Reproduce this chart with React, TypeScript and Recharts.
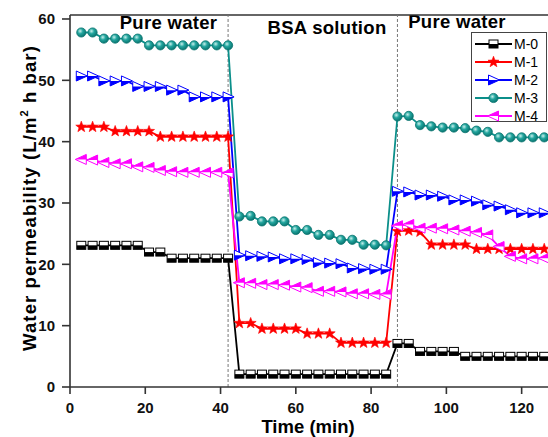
import React from 'react';
import { LineChart, Line, XAxis, YAxis, ReferenceLine, Legend, Customized } from 'recharts';

const times = [3, 6, 9, 12, 15, 18, 21, 24, 27, 30, 33, 36, 39, 42, 45, 48, 51, 54, 57, 60, 63, 66, 69, 72, 75, 78, 81, 84, 87, 90, 93, 96, 99, 102, 105, 108, 111, 114, 117, 120, 123, 126];

const m0 = [23.1, 23.1, 23.1, 23.1, 23.1, 23.1, 22.0, 22.0, 21.0, 21.0, 21.0, 21.0, 21.0, 21.0,
  2.1, 2.1, 2.1, 2.1, 2.1, 2.1, 2.1, 2.1, 2.1, 2.1, 2.1, 2.1, 2.1, 2.1,
  7.1, 7.1, 5.8, 5.8, 5.8, 5.8, 5.0, 5.0, 5.0, 5.0, 5.0, 5.0, 5.0, 5.0];
const m1 = [42.4, 42.4, 42.4, 41.7, 41.7, 41.7, 41.7, 40.8, 40.8, 40.8, 40.8, 40.8, 40.8, 40.8,
  10.4, 10.4, 9.5, 9.5, 9.5, 9.5, 8.7, 8.7, 8.7, 7.2, 7.2, 7.2, 7.2, 7.2,
  25.4, 25.5, 25.3, 23.2, 23.2, 23.2, 23.2, 22.5, 22.5, 22.5, 22.5, 22.5, 22.5, 22.5];
const m2 = [50.7, 50.7, 49.9, 49.9, 49.9, 49.0, 49.0, 49.0, 48.4, 48.4, 47.3, 47.3, 47.3, 47.3,
  21.5, 21.4, 21.3, 21.2, 20.9, 20.9, 20.8, 20.3, 20.2, 20.1, 19.4, 19.3, 19.2, 19.2,
  31.9, 31.8, 31.3, 31.3, 31.1, 30.5, 30.5, 30.3, 29.7, 29.5, 28.9, 28.4, 28.4, 28.4];
const m3 = [57.8, 57.8, 56.8, 56.8, 56.8, 56.8, 55.7, 55.7, 55.7, 55.7, 55.7, 55.7, 55.7, 55.7,
  27.8, 27.9, 27.0, 27.0, 27.0, 25.6, 25.6, 24.8, 24.8, 24.0, 24.0, 23.2, 23.2, 23.1,
  44.1, 44.2, 42.7, 42.5, 42.3, 42.3, 42.2, 41.8, 41.6, 40.7, 40.7, 40.7, 40.7, 40.7];
const m4 = [37.1, 37.0, 36.6, 36.4, 36.4, 35.9, 35.8, 35.3, 35.1, 35.0, 35.0, 35.0, 35.0, 34.9,
  17.0, 16.9, 16.7, 16.7, 16.6, 16.3, 16.2, 15.6, 15.6, 15.5, 15.2, 15.2, 15.1, 15.1,
  26.3, 26.5, 25.9, 25.9, 25.8, 25.6, 25.4, 25.2, 24.8, 22.9, 21.3, 20.9, 20.9, 21.0];

const seriesNames = ['M-0', 'M-1', 'M-2', 'M-3', 'M-4'];
const seriesKeys = ['m0', 'm1', 'm2', 'm3', 'm4'];
const seriesColors = ['#000000', '#ff0000', '#0000ff', '#0b8f8a', '#ff00ff'];
const xTicks = [0, 20, 40, 60, 80, 100, 120];
const yTicks = [0, 10, 20, 30, 40, 50, 60];
const phaseBoundaries = [42, 87];
const phaseLabels = ['Pure water', 'BSA solution', 'Pure water'];

const data = times.map((t, i) => ({ t, m0: m0[i], m1: m1[i], m2: m2[i], m3: m3[i], m4: m4[i] }));

const FONT = '"Liberation Sans", Arial, sans-serif';

function Marker({ kind, cx, cy }: { kind: number; cx: number; cy: number }) {
  if (cx == null || cy == null) return null;
  if (kind === 0) {
    return (
      <g>
        <rect x={cx - 4.5} y={cy - 4} width={9} height={8} fill="#fff" stroke="#000" strokeWidth={1} />
        <rect x={cx - 4.5} y={cy} width={9} height={4} fill="#000" />
      </g>
    );
  }
  if (kind === 1) {
    const pts: string[] = [];
    for (let k = 0; k < 10; k++) {
      const r = k % 2 === 0 ? 5.8 : 2.4;
      const a = -Math.PI / 2 + (k * Math.PI) / 5;
      pts.push(`${cx + r * Math.cos(a)},${cy + r * Math.sin(a)}`);
    }
    return <polygon points={pts.join(' ')} fill="#ff0000" stroke="#ff0000" strokeWidth={0.6} />;
  }
  if (kind === 2) {
    return (
      <g>
        <polygon points={`${cx - 5},${cy - 5} ${cx + 6},${cy} ${cx - 5},${cy + 5}`} fill="#fff" stroke="#0000ff" strokeWidth={1} />
        <polygon points={`${cx - 5},${cy} ${cx + 6},${cy} ${cx - 5},${cy + 5}`} fill="#0000ff" />
      </g>
    );
  }
  if (kind === 3) {
    return <circle cx={cx} cy={cy} r={4.6} fill="url(#ballGrad)" stroke="#0a7570" strokeWidth={0.8} />;
  }
  return (
    <g>
      <polygon points={`${cx + 5},${cy - 5} ${cx - 6},${cy} ${cx + 5},${cy + 5}`} fill="#fff" stroke="#ff00ff" strokeWidth={1} />
      <polygon points={`${cx + 5},${cy - 5} ${cx - 6},${cy} ${cx + 5},${cy}`} fill="#ff00ff" />
    </g>
  );
}

function LegendBox() {
  return (
    <svg width={76} height={96} style={{ display: 'block', overflow: 'visible' }}>
      <defs>
        <radialGradient id="ballGradL" cx="0.38" cy="0.35" r="0.65">
          <stop offset="0" stopColor="#c8f0ec" />
          <stop offset="0.45" stopColor="#22a59e" />
          <stop offset="1" stopColor="#0a7570" />
        </radialGradient>
      </defs>
      <rect x={0.5} y={0.5} width={75} height={89} fill="#fff" stroke="#444" strokeWidth={1} />
      {seriesNames.map((n, i) => {
        const y = 12 + i * 18;
        return (
          <g key={n}>
            <line x1={4} x2={41} y1={y} y2={y} stroke={seriesColors[i]} strokeWidth={1.8} />
            {i === 3 ? (
              <circle cx={22.5} cy={y} r={4.6} fill="url(#ballGradL)" stroke="#0a7570" strokeWidth={0.8} />
            ) : (
              <Marker kind={i} cx={22.5} cy={y} />
            )}
            <text x={43} y={y + 5} fontFamily={FONT} fontSize={14} fill="#000">{n}</text>
          </g>
        );
      })}
    </svg>
  );
}

function Annotations() {
  const labelX = [168.5, 327, 457];
  const labelY = [29, 34, 28];
  return (
    <g>
      <defs>
        <radialGradient id="ballGrad" cx="0.38" cy="0.35" r="0.65">
          <stop offset="0" stopColor="#c8f0ec" />
          <stop offset="0.45" stopColor="#22a59e" />
          <stop offset="1" stopColor="#0a7570" />
        </radialGradient>
      </defs>
      {phaseLabels.map((l, i) => (
        <text key={i} x={labelX[i]} y={labelY[i]} textAnchor="middle" fontFamily={FONT} fontWeight="bold" fontSize={18.5} fill="#000" letterSpacing={0.3}>{l}</text>
      ))}
      <text x={308} y={433} textAnchor="middle" fontFamily={FONT} fontWeight="bold" fontSize={18.5} fill="#000">Time (min)</text>
      <text transform="translate(36,198) rotate(-90)" textAnchor="middle" fontFamily={FONT} fontWeight="bold" fontSize={18.5} fill="#000" letterSpacing={1.1}>
        <tspan>Water permeability (L/m</tspan>
        <tspan fontSize={11} dy={-8}>2</tspan>
        <tspan dy={8}> h bar)</tspan>
      </text>
    </g>
  );
}

const tickStyle = { fontFamily: FONT, fontWeight: 'bold' as const, fontSize: 15, fill: '#111' };

export default function App() {
  return (
    <div style={{ position: 'absolute', left: 0, top: 0, background: '#fff' }}>
      <LineChart width={548} height={437} data={data} margin={{ top: 15, right: 0, bottom: 0, left: 0 }}>
        <Customized component={Annotations} />
        <XAxis
          dataKey="t"
          type="number"
          domain={[0, 127]}
          ticks={xTicks}
          height={50}
          tickSize={7}
          tickMargin={8}
          tick={tickStyle}
          axisLine={{ stroke: '#333', strokeWidth: 1.6 }}
          tickLine={{ stroke: '#333', strokeWidth: 1.6 }}
          allowDataOverflow
        />
        <YAxis
          type="number"
          domain={[0, 60.65]}
          ticks={yTicks}
          width={70}
          tickSize={8}
          tickMargin={7}
          tick={tickStyle}
          axisLine={{ stroke: '#333', strokeWidth: 1.6 }}
          tickLine={{ stroke: '#333', strokeWidth: 1.6 }}
          allowDataOverflow
        />
        <ReferenceLine y={60.65} stroke="#333" strokeWidth={1.6} />
        {phaseBoundaries.map((b) => (
          <ReferenceLine key={b} x={b} stroke="#777" strokeWidth={1} strokeDasharray="3 2" />
        ))}
        {seriesKeys.map((k, i) => (
          <Line
            key={k}
            dataKey={k}
            name={seriesNames[i]}
            stroke={seriesColors[i]}
            strokeWidth={1.8}
            isAnimationActive={false}
            dot={(p: any) => <Marker key={`${k}-${p.index}`} kind={i} cx={p.cx} cy={p.cy} />}
            activeDot={false}
          />
        ))}
        <Legend
          layout="vertical"
          align="center"
          verticalAlign="middle"
          content={() => <LegendBox />}
          wrapperStyle={{ left: 471, top: 32, width: 76, height: 96 }}
        />
      </LineChart>
    </div>
  );
}
